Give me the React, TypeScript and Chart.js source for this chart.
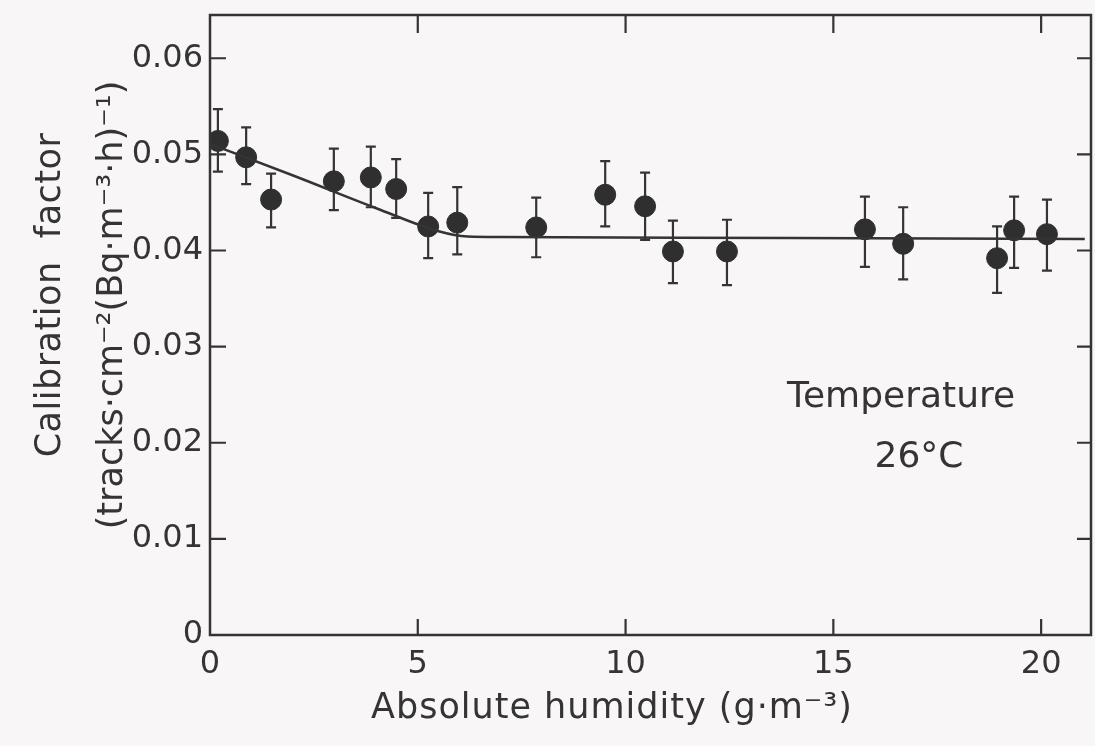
import React, { useEffect, useRef } from 'react';
import { Chart, registerables } from 'chart.js';

Chart.register(...registerables);

// Data
const humidity = [0.19, 0.87, 1.47, 2.98, 3.87, 4.48, 5.25, 5.95, 7.85, 9.51, 10.47, 11.14, 12.44, 15.76, 16.68, 18.94, 19.35, 20.14];
const calibration = [0.0514, 0.0497, 0.0453, 0.0472, 0.0476, 0.0464, 0.0425, 0.0429, 0.0424, 0.0458, 0.0446, 0.0399, 0.0399, 0.0422, 0.0407, 0.0392, 0.0421, 0.0417];
const errUpper = [0.0547, 0.0528, 0.048, 0.0506, 0.0508, 0.0495, 0.046, 0.0466, 0.0455, 0.0493, 0.0481, 0.0431, 0.0432, 0.0456, 0.0445, 0.0425, 0.0456, 0.0453];
const errLower = [0.0482, 0.0469, 0.0424, 0.0442, 0.0445, 0.0434, 0.0392, 0.0396, 0.0393, 0.0425, 0.0411, 0.0366, 0.0364, 0.0383, 0.037, 0.0356, 0.0382, 0.0379];
const fitX = [0, 2, 4, 5.5, 6.2, 7, 14, 21.05];
const fitY = [0.0511, 0.0478, 0.0444, 0.042, 0.04145, 0.0414, 0.0413, 0.0412];
const xTicks = [0, 5, 10, 15, 20];
const yTicks = [0, 0.01, 0.02, 0.03, 0.04, 0.05, 0.06];

const INK = '#343434';
const BG = '#f8f6f6';
const FONT = '"DejaVu Sans", sans-serif';

const decorPlugin = {
  id: 'decor',
  beforeDraw(chart: any) {
    const { ctx, width, height } = chart;
    ctx.save();
    ctx.fillStyle = BG;
    ctx.fillRect(0, 0, width, height);
    ctx.restore();
  },
  beforeDatasetsDraw(chart: any) {
    const { ctx } = chart;
    const xs = chart.scales.x;
    const ys = chart.scales.y;
    ctx.save();
    ctx.strokeStyle = INK;
    ctx.lineWidth = 2.2;
    for (let i = 0; i < humidity.length; i++) {
      const px = xs.getPixelForValue(humidity[i]);
      const pTop = ys.getPixelForValue(errUpper[i]);
      const pBot = ys.getPixelForValue(errLower[i]);
      ctx.beginPath();
      ctx.moveTo(px, pTop);
      ctx.lineTo(px, pBot);
      ctx.moveTo(px - 5, pTop);
      ctx.lineTo(px + 5, pTop);
      ctx.moveTo(px - 5, pBot);
      ctx.lineTo(px + 5, pBot);
      ctx.stroke();
    }
    ctx.restore();
  },
  afterDraw(chart: any) {
    const { ctx, chartArea } = chart;
    const { left, right, top, bottom } = chartArea;
    const xs = chart.scales.x;
    const ys = chart.scales.y;
    ctx.save();
    ctx.strokeStyle = INK;
    ctx.lineWidth = 2.5;
    ctx.strokeRect(left, top, right - left, bottom - top);
    ctx.lineWidth = 2.2;
    ctx.beginPath();
    xTicks.forEach((v) => {
      if (v === 0) return;
      const px = xs.getPixelForValue(v);
      ctx.moveTo(px, bottom);
      ctx.lineTo(px, bottom - 16);
      ctx.moveTo(px, top);
      ctx.lineTo(px, top + 18);
    });
    yTicks.forEach((v) => {
      if (v === 0) return;
      const py = ys.getPixelForValue(v);
      ctx.moveTo(left, py);
      ctx.lineTo(left + 16, py);
      ctx.moveTo(right, py);
      ctx.lineTo(right - 14, py);
    });
    ctx.stroke();

    // annotation
    ctx.fillStyle = INK;
    ctx.textBaseline = 'alphabetic';
    ctx.textAlign = 'center';
    ctx.font = `36px ${FONT}`;
    ctx.fillText('Temperature', xs.getPixelForValue(16.63), ys.getPixelForValue(0.02375));
    ctx.fillText('26°C', xs.getPixelForValue(17.06), ys.getPixelForValue(0.0175));

    // x axis title
    ctx.font = `35px ${FONT}`;
    (ctx as any).letterSpacing = '1px';
    ctx.fillText('Absolute humidity (g·m⁻³)', 612, 718);

    // y axis title
    (ctx as any).letterSpacing = '0.5px';
    ctx.save();
    ctx.translate(60, 295);
    ctx.rotate(-Math.PI / 2);
    ctx.fillText('Calibration  factor', 0, 0);
    ctx.restore();
    (ctx as any).letterSpacing = '0px';
    ctx.save();
    ctx.translate(122, 305);
    ctx.rotate(-Math.PI / 2);
    ctx.fillText('(tracks·cm⁻²(Bq·m⁻³·h)⁻¹)', 0, 0);
    ctx.restore();
    ctx.restore();
  },
};

export default function App() {
  const canvasRef = useRef<HTMLCanvasElement | null>(null);

  useEffect(() => {
    document.body.style.margin = '0';
    document.body.style.background = BG;
    const canvas = canvasRef.current;
    if (!canvas) return;
    const chart = new Chart(canvas, {
      type: 'scatter',
      data: {
        datasets: [
          {
            label: 'fit',
            data: fitX.map((x, i) => ({ x, y: fitY[i] })),
            showLine: true,
            borderColor: INK,
            borderWidth: 2.5,
            pointRadius: 0,
            cubicInterpolationMode: 'monotone',
            fill: false,
          } as any,
          {
            label: 'measured',
            data: humidity.map((x, i) => ({ x, y: calibration[i] })),
            showLine: false,
            pointRadius: 10.5,
            pointBackgroundColor: '#2f2f2f',
            pointBorderColor: '#2f2f2f',
            pointBorderWidth: 1,
          },
        ],
      },
      options: {
        animation: false,
        responsive: false,
        devicePixelRatio: 1,
        layout: { autoPadding: false, padding: { top: 15, right: 4, left: 0, bottom: 0 } },
        plugins: {
          legend: { display: false },
          tooltip: { enabled: false },
          title: { display: false },
        },
        scales: {
          x: {
            type: 'linear',
            min: 0,
            max: 21.2,
            grid: { display: false, drawTicks: false },
            border: { display: false },
            afterBuildTicks: (s: any) => {
              s.ticks = xTicks.map((v) => ({ value: v }));
            },
            afterFit: (s: any) => {
              s.height = 111;
              s.paddingLeft = 0;
              s.paddingRight = 0;
            },
            ticks: {
              color: INK,
              font: { family: FONT, size: 32 },
              padding: 10,
              maxRotation: 0,
              autoSkip: false,
              callback: (v: any) => String(v),
            },
          },
          y: {
            type: 'linear',
            min: 0,
            max: 0.0645,
            grid: { display: false, drawTicks: false },
            border: { display: false },
            afterBuildTicks: (s: any) => {
              s.ticks = yTicks.map((v) => ({ value: v }));
            },
            afterFit: (s: any) => {
              s.width = 210;
              s.paddingTop = 0;
              s.paddingBottom = 0;
            },
            ticks: {
              color: INK,
              font: { family: FONT, size: 32 },
              padding: 7,
              autoSkip: false,
              callback: (v: any) => (v === 0 ? '0' : Number(v).toFixed(2)),
            },
          },
        },
      } as any,
      plugins: [decorPlugin],
    });
    return () => chart.destroy();
  }, []);

  return (
    <div style={{ width: 1095, height: 746, background: BG }}>
      <canvas ref={canvasRef} width={1095} height={746} style={{ display: 'block' }} />
    </div>
  );
}
